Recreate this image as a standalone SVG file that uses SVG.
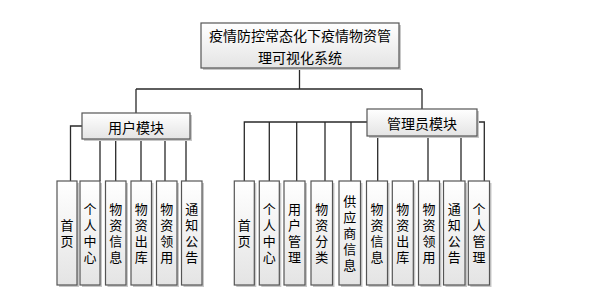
<svg xmlns="http://www.w3.org/2000/svg" width="608" height="292" viewBox="0 0 608 292">
<defs>
<linearGradient id="g" x1="0" y1="0" x2="0" y2="1">
<stop offset="0" stop-color="#ffffff"/>
<stop offset="1" stop-color="#e4e4e4"/>
</linearGradient>
</defs>
<style>
.box{fill:url(#g);stroke:#555;stroke-width:1.2}
.sh{fill:#c8c8c8}
.t{font-family:"Noto Sans CJK SC","Liberation Sans",sans-serif;font-size:14px;fill:#000;text-anchor:middle;dominant-baseline:central}
.v{font-family:"Noto Sans CJK SC","Liberation Sans",sans-serif;font-size:13px;fill:#000;text-anchor:middle;writing-mode:vertical-rl;text-orientation:upright;letter-spacing:3px}
.c{fill:none;stroke:#2a2a2a;stroke-width:1.3}
</style>
<rect width="608" height="292" fill="#fff"/>
<g id="connectors">
<path class="c" d="M299.5 68V89M136 89H422M136 89V113M422 89V109"/>
<path class="c" d="M82 126H70.5V181M100 139V181M115.7 139V181M141 139V181M165 139V181M186 139V181"/>
<path class="c" d="M367 122H244.3V181M269.3 122V181M296.7 122V181M325 122V181M351 122V181M377.7 136V181M428 136V181M461 136V181M477 122H484.3V181"/>
</g>
<g id="root">
<rect class="sh" x="203" y="25" width="198" height="45"/>
<rect class="box" x="201" y="23" width="198" height="45"/>
<text class="t" x="300" y="35">疫情防控常态化下疫情物资管</text>
<text class="t" x="300" y="56.5">理可视化系统</text>
</g>
<g id="user">
<rect class="sh" x="84" y="115" width="108" height="26"/>
<rect class="box" x="82" y="113" width="108" height="26"/>
<text class="t" x="136" y="126.5">用户模块</text>
</g>
<g id="admin">
<rect class="sh" x="369" y="111" width="110" height="27"/>
<rect class="box" x="367" y="109" width="110" height="27"/>
<text class="t" x="422" y="122.5">管理员模块</text>
</g>
<g id="u1"><rect class="sh" x="59" y="183" width="20" height="104"/><rect class="box" x="57" y="181" width="20" height="104"/><text class="v" x="67" y="234.5">首页</text></g>
<g id="u2"><rect class="sh" x="82" y="183" width="20" height="104"/><rect class="box" x="80" y="181" width="20" height="104"/><text class="v" x="90" y="234.5">个人中心</text></g>
<g id="u3"><rect class="sh" x="107.5" y="183" width="20.5" height="104"/><rect class="box" x="105.5" y="181" width="20.5" height="104"/><text class="v" x="115.8" y="234.5">物资信息</text></g>
<g id="u4"><rect class="sh" x="133" y="183" width="20.5" height="104"/><rect class="box" x="131" y="181" width="20.5" height="104"/><text class="v" x="141.2" y="234.5">物资出库</text></g>
<g id="u5"><rect class="sh" x="158.5" y="183" width="20.5" height="104"/><rect class="box" x="156.5" y="181" width="20.5" height="104"/><text class="v" x="166.7" y="234.5">物资领用</text></g>
<g id="u6"><rect class="sh" x="183.5" y="183" width="20.5" height="104"/><rect class="box" x="181.5" y="181" width="20.5" height="104"/><text class="v" x="191.7" y="234.5">通知公告</text></g>
<g id="a1"><rect class="sh" x="236.3" y="183" width="20" height="104"/><rect class="box" x="234.3" y="181" width="20" height="104"/><text class="v" x="244.3" y="234.5">首页</text></g>
<g id="a2"><rect class="sh" x="261.3" y="183" width="20" height="104"/><rect class="box" x="259.3" y="181" width="20" height="104"/><text class="v" x="269.3" y="234.5">个人中心</text></g>
<g id="a3"><rect class="sh" x="286" y="183" width="21" height="104"/><rect class="box" x="284" y="181" width="21" height="104"/><text class="v" x="294.5" y="234.5">用户管理</text></g>
<g id="a4"><rect class="sh" x="313" y="183" width="21.5" height="104"/><rect class="box" x="311" y="181" width="21.5" height="104"/><text class="v" x="321.8" y="234.5">物资分类</text></g>
<g id="a5"><rect class="sh" x="341" y="183" width="21.5" height="104"/><rect class="box" x="339" y="181" width="21.5" height="104"/><text class="v" x="349.8" y="234.5">供应商信息</text></g>
<g id="a6"><rect class="sh" x="368.5" y="183" width="21" height="104"/><rect class="box" x="366.5" y="181" width="21" height="104"/><text class="v" x="377" y="234.5">物资信息</text></g>
<g id="a7"><rect class="sh" x="394.3" y="183" width="21" height="104"/><rect class="box" x="392.3" y="181" width="21" height="104"/><text class="v" x="402.8" y="234.5">物资出库</text></g>
<g id="a8"><rect class="sh" x="420.5" y="183" width="21" height="104"/><rect class="box" x="418.5" y="181" width="21" height="104"/><text class="v" x="429" y="234.5">物资领用</text></g>
<g id="a9"><rect class="sh" x="445.5" y="183" width="21.5" height="104"/><rect class="box" x="443.5" y="181" width="21.5" height="104"/><text class="v" x="454.2" y="234.5">通知公告</text></g>
<g id="a10"><rect class="sh" x="470.3" y="183" width="21.2" height="104"/><rect class="box" x="468.3" y="181" width="21.2" height="104"/><text class="v" x="478.9" y="234.5">个人管理</text></g>
</svg>
